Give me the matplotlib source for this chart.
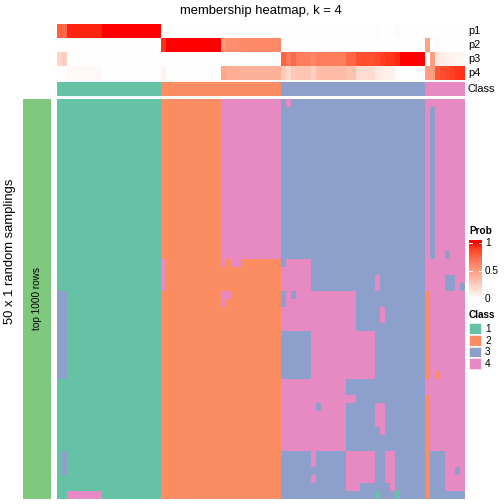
"""Membership heatmap (k = 4) over 50 x 1 random samplings."""

import matplotlib

matplotlib.use("Agg")
import matplotlib.pyplot as plt
import numpy as np
from matplotlib.colors import BoundaryNorm, ListedColormap
from matplotlib.patches import Rectangle

plt.rcParams["font.family"] = ["Liberation Sans", "DejaVu Sans"]

FIG_PX = 504
DPI = 72

CLASS_LABELS = ["1", "2", "3", "4"]
CLASS_COLORS = ["#66C2A5", "#FC8D62", "#8DA0CB", "#E78AC3"]
SAMPLING_COLOR = "#7FC97F"

# consensus class of each sample (column)
sample_class = (
    "111111111111111111111"
    "222222222222222222222222"
    "33333333333333333333333333333"
    "44444444"
)

# membership probability of each sample to each class
p1 = [
    0.78, 0.75, 0.96, 0.96, 0.96, 0.96, 0.96, 0.96, 0.96, 1.0, 1.0, 1.0, 1.0, 1.0, 1.0, 1.0, 1.0, 1.0, 1.0, 1.0, 1.0,
    0, 0, 0, 0, 0, 0, 0, 0, 0, 0, 0, 0, 0, 0, 0, 0, 0, 0, 0, 0, 0, 0, 0, 0,
    0, 0, 0, 0, 0, 0, 0, 0, 0, 0, 0, 0, 0, 0, 0, 0, 0, 0, 0, 0.02, 0, 0, 0, 0.03, 0, 0, 0, 0, 0,
    0, 0, 0, 0, 0, 0, 0, 0,
]
p2 = [
    0, 0, 0, 0, 0, 0, 0, 0, 0, 0, 0, 0, 0, 0, 0, 0, 0, 0, 0, 0, 0,
    0.93, 1.0, 1.0, 1.0, 1.0, 1.0, 1.0, 1.0, 1.0, 1.0, 1.0, 1.0, 0.52, 0.58, 0.58, 0.58, 0.6, 0.6, 0.6, 0.6, 0.6, 0.6, 0.6, 0.6,
    0, 0, 0, 0, 0, 0, 0, 0, 0, 0, 0, 0, 0, 0, 0, 0, 0, 0, 0, 0, 0, 0, 0, 0, 0, 0, 0, 0, 0,
    0.47, 0, 0.03, 0, 0, 0, 0, 0,
]
p3 = [
    0.22, 0.25, 0, 0, 0, 0, 0, 0, 0, 0, 0, 0, 0, 0, 0, 0, 0, 0, 0, 0, 0,
    0, 0, 0, 0, 0, 0, 0, 0, 0, 0, 0, 0, 0, 0, 0, 0, 0, 0, 0, 0, 0, 0, 0, 0,
    0.76, 0.67, 0.74, 0.65, 0.65, 0.65, 0.6, 0.66, 0.65, 0.65, 0.65, 0.65, 0.65, 0.75, 0.75,
    0.84, 0.84, 0.84, 0.84, 0.86, 0.9, 0.92, 0.92, 0.95, 1.0, 1.0, 1.0, 1.0, 1.0,
    0, 0.5, 0.12, 0.1, 0.08, 0.06, 0.05, 0.05,
]
p4 = [
    0, 0, 0.03, 0.03, 0.03, 0.03, 0.03, 0.03, 0.03, 0, 0, 0, 0, 0, 0, 0, 0, 0, 0, 0, 0,
    0.06, 0, 0, 0, 0, 0, 0, 0, 0, 0, 0, 0, 0.46, 0.42, 0.42, 0.42, 0.4, 0.4, 0.4, 0.4, 0.4, 0.4, 0.4, 0.4,
    0.27, 0.2, 0.28, 0.3, 0.3, 0.3, 0.24, 0.34, 0.35, 0.35, 0.35, 0.35, 0.35, 0.31, 0.31,
    0.18, 0.18, 0.18, 0.18, 0.12, 0.1, 0.08, 0.08, 0, 0, 0, 0, 0, 0,
    0.5, 0.5, 0.82, 0.85, 0.87, 0.9, 0.92, 0.93,
]
prob_names = ["p1", "p2", "p3", "p4"]

# class assigned to each sample (columns) in each of the 50 samplings (rows)
membership = [
    "111111111111111111111" "222222222222444444444444" "34333333333333333333333333333" "44444444",
    *["111111111111111111111" "222222222222444444444444" "33333333333333333333333333333" "43444444"] * 18,
    "111111111111111111111" "222222222222444444444444" "33333333333333333333333333333" "43443444",
    "111111111111111111111" "422222222222424422222222" "34444433333333333333333333333" "44444444",
    "111111111111111111111" "422222222222222222222222" "44444433333333333333333333333" "44444444",
    "111111111111111111111" "422222222222222222222222" "44444433333333333334333333333" "44443344",
    "111111111111111111111" "422222222222222222222222" "44444433333333333334333333333" "44443343",
    "331111111111111111111" "222222222222442222222222" "34344444444444433333333333333" "24444444",
    "331111111111111111111" "222222222222422222222222" "34444444444444433333333333333" "24444444",
    "331111111111111111111" "222222222222222222222222" "44444444444444433333433333333" "24444444",
    "331111111111111111111" "222222222222222222222222" "44444444444444433333433333333" "24444444",
    "331111111111111111111" "222222222222222222222222" "44444444444444433333333333333" "24444444",
    *["331111111111111111111" "222222222222222222222222" "33333344444444444443333333333" "24444444"] * 5,
    "331111111111111111111" "222222222222222222222222" "33333344444444444443333333333" "24244444",
    "111111111111111111111" "222222222222222222222222" "44444444444443333333333333333" "44444444",
    "111111111111111111111" "222222222222222222222222" "44444444444443333333333333333" "44444444",
    "111111111111111111111" "222222222222222222222222" "44444444444444433333333333333" "24444444",
    "111111111111111111111" "222222222222222222222222" "44444443444443333334433333333" "24444444",
    "111111111111111111111" "222222222222222222222222" "44444444444443333334433333333" "24444444",
    "111111111111111111111" "222222222222222222222222" "44444444444443333334433333333" "24444444",
    "111111111111111111111" "222222222222222222222222" "44444444444443333333433333333" "24444444",
    "111111111111111111111" "222222222222222222222222" "44444444444443333333333333333" "24444444",
    "111111111111111111111" "222222222222222222222222" "44444444444443333333333333333" "24444444",
    "131111111111111111111" "222222222222222222222222" "33333343333334444443344333333" "23334444",
    "131111111111111111111" "222222222222222222222222" "33333343333334444443344333333" "23334444",
    "131111111111111111111" "222222222222222222222222" "33333333333334444443344333333" "23334434",
    "111111111111111111111" "222222222222222222222222" "33333343333334444443344333333" "23334444",
    "111111111111111111111" "222222222222222222222222" "33333333333334443333334333333" "23334444",
    "114444444111111111111" "222222222222222222222222" "33333333333333333331333133333" "23333333",
]


def white_red_cmap(n=256):
    """White -> red ramp interpolated in CIE Lab, like circlize::colorRamp2."""
    white, red = np.array([100.0, 0.0, 0.0]), np.array([53.24, 80.09, 67.20])
    lab = white + np.linspace(0, 1, n)[:, None] * (red - white)
    fy = (lab[:, 0] + 16) / 116
    f = np.stack([fy + lab[:, 1] / 500, fy, fy - lab[:, 2] / 200], axis=1)
    xyz = np.where(f > 6 / 29, f**3, 3 * (6 / 29) ** 2 * (f - 4 / 29)) * [0.95047, 1.0, 1.08883]
    m = np.array([[3.2406, -1.5372, -0.4986], [-0.9689, 1.8758, 0.0415], [0.0557, -0.2040, 1.0570]])
    rgb = np.clip(xyz @ m.T, 0, 1)
    rgb = np.where(rgb <= 0.0031308, 12.92 * rgb, 1.055 * rgb ** (1 / 2.4) - 0.055)
    return ListedColormap(np.clip(rgb, 0, 1))


def px_axes(fig, left, top, right, bottom):
    """Add an axes given in pixel coordinates measured from the top left corner."""
    ax = fig.add_axes([left / FIG_PX, 1 - bottom / FIG_PX, (right - left) / FIG_PX, (bottom - top) / FIG_PX])
    ax.set_axis_off()
    return ax


def fig_text(fig, x, y, s, **kwargs):
    fig.text(x / FIG_PX, 1 - y / FIG_PX, s, **kwargs)


def main():
    for row in membership:
        if len(row) != len(sample_class):
            raise ValueError(f"row has {len(row)} columns")

    prob_cmap = white_red_cmap()
    class_cmap = ListedColormap(CLASS_COLORS)
    class_norm = BoundaryNorm([0.5, 1.5, 2.5, 3.5, 4.5], 4)

    fig = plt.figure(figsize=(FIG_PX / DPI, FIG_PX / DPI), dpi=DPI)

    # top annotations
    ax_prob = px_axes(fig, 57, 24, 465, 80)
    ax_prob.imshow(np.array([p1, p2, p3, p4]), cmap=prob_cmap, vmin=0, vmax=1, aspect="auto", interpolation="nearest")
    for i, name in enumerate(prob_names):
        fig_text(fig, 468, 31 + 14 * i, name, fontsize=11, ha="left", va="center")

    classes = np.array([[int(c) for c in sample_class]])
    ax_cls = px_axes(fig, 57, 82, 465, 96)
    ax_cls.imshow(classes, cmap=class_cmap, norm=class_norm, aspect="auto", interpolation="nearest")
    fig_text(fig, 468, 89, "Class", fontsize=11, ha="left", va="center")

    # main membership body
    body = np.array([[int(c) for c in row] for row in membership])
    ax_body = px_axes(fig, 57, 99, 465, 499)
    ax_body.imshow(body, cmap=class_cmap, norm=class_norm, aspect="auto", interpolation="nearest")

    # row annotation on the left
    ax_left = px_axes(fig, 23, 99, 51, 499)
    ax_left.add_patch(Rectangle((0, 0), 1, 1, color=SAMPLING_COLOR))
    ax_left.text(0.5, 0.5, "top 1000 rows", rotation=90, fontsize=10, ha="center", va="center")

    fig_text(fig, 261, 11, "membership heatmap, k = 4", fontsize=13, ha="center", va="center")
    fig_text(fig, 10, 251, "50 x 1 random samplings", fontsize=13, rotation=90, ha="center", va="center")

    # Prob legend
    fig_text(fig, 469, 231, "Prob", fontsize=10, fontweight="bold", ha="left", va="center")
    ax_leg = px_axes(fig, 469, 240, 482, 300)
    lo, hi = -1 / 56, 59 / 56
    grad = np.linspace(lo, hi, 200)[:, None]
    ax_leg.imshow(grad, cmap=prob_cmap, vmin=0, vmax=1, aspect="auto", origin="lower", extent=[0, 1, lo, hi])
    ax_leg.set_xlim(0, 1)
    ax_leg.set_ylim(lo, hi)
    for v, label in [(1, "1"), (0.5, "0.5"), (0, "0")]:
        ax_leg.plot([0, 0.25], [v, v], color="white", lw=1)
        ax_leg.plot([0.75, 1], [v, v], color="white", lw=1)
        fig_text(fig, 485, 299 - 56 * v, label, fontsize=10, ha="left", va="center")

    # Class legend
    fig_text(fig, 469, 315, "Class", fontsize=10, fontweight="bold", ha="left", va="center")
    ax_box = px_axes(fig, 469, 323, 482, 370)
    ax_box.set_xlim(0, 1)
    ax_box.set_ylim(len(CLASS_LABELS), 0)
    for i, (label, color) in enumerate(zip(CLASS_LABELS, CLASS_COLORS)):
        ax_box.add_patch(Rectangle((0, i), 1, 1, facecolor=color, edgecolor="white", lw=1.5))
        fig_text(fig, 485, 323 + 47 / 4 * (i + 0.5), label, fontsize=10, ha="left", va="center")

    fig.savefig("out.png", dpi=DPI)
    plt.close(fig)


if __name__ == "__main__":
    main()
